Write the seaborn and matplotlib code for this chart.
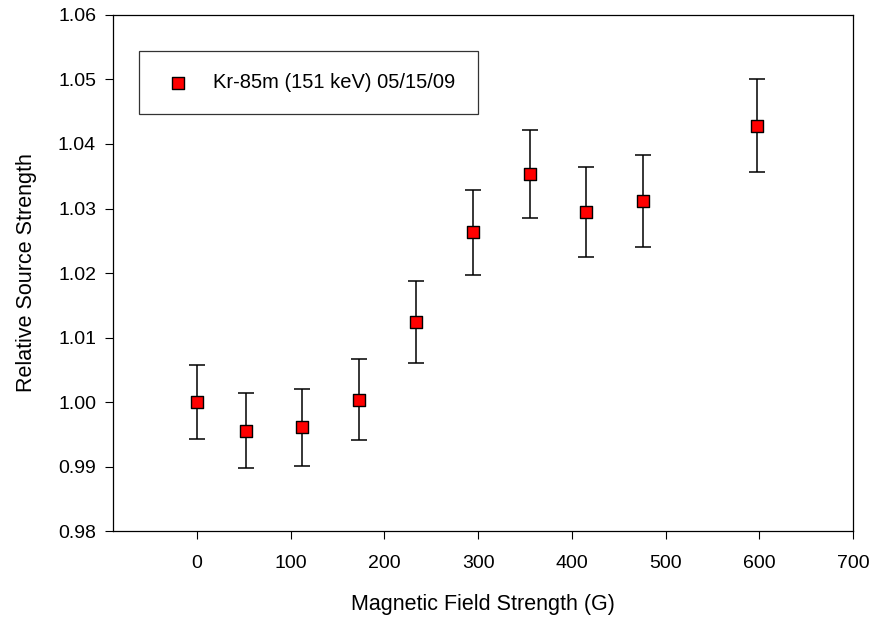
import numpy as np
import pandas as pd
import matplotlib
matplotlib.use("Agg")
import matplotlib.pyplot as plt
import seaborn as sns

# ------------------------
# Data
# ------------------------
field_G = [0, 52, 112, 173, 234, 294, 355, 415, 476, 597]
rel_strength = [1.0000, 0.9956, 0.9961, 1.0004, 1.0124, 1.0263, 1.0354, 1.0295, 1.0312, 1.0428]
rel_err = [0.0057, 0.0058, 0.0060, 0.0063, 0.0064, 0.0066, 0.0068, 0.0070, 0.0071, 0.0072]
series_label = "Kr-85m (151 keV) 05/15/09"

df = pd.DataFrame({"field": field_G, "strength": rel_strength, "err": rel_err})

# ------------------------
# Plot
# ------------------------
sns.set_style("ticks")
plt.rcParams["font.family"] = ["Liberation Sans", "DejaVu Sans"]
plt.rcParams["text.color"] = "black"
plt.rcParams["axes.labelcolor"] = "black"

fig = plt.figure(figsize=(8.74, 6.22), dpi=100)
ax = fig.add_axes([0.129, 0.146, 0.847, 0.830])

ax.errorbar(df["field"], df["strength"], yerr=df["err"], fmt="none",
            ecolor="black", elinewidth=1.1, capsize=5.5, capthick=1.1, zorder=2)
sns.scatterplot(data=df, x="field", y="strength", marker="s", s=70,
                color="#ff0000", edgecolor="black", linewidth=1.0,
                label=series_label, ax=ax, zorder=3)

ax.set_xlim(-90, 700)
ax.set_ylim(0.98, 1.06)
ax.set_xticks(np.arange(0, 701, 100))
yt = np.arange(0.98, 1.0601, 0.01)
ax.set_yticks(yt)
ax.set_yticklabels([f"{v:.2f}" for v in yt])

ax.set_xlabel("Magnetic Field Strength (G)", fontsize=15.5, labelpad=16)
ax.set_ylabel("Relative Source Strength", fontsize=15.5, labelpad=15)
ax.tick_params(axis="both", direction="out", length=6, width=0.8,
               labelsize=14, colors="black", top=False, right=False)
ax.tick_params(axis="x", pad=11)
ax.tick_params(axis="y", pad=6)
for sp in ax.spines.values():
    sp.set_visible(True)
    sp.set_linewidth(0.9)
    sp.set_color("black")

leg = ax.legend(loc="upper left", bbox_to_anchor=(0.035, 0.93), borderaxespad=0,
                fontsize=14.5, frameon=True, fancybox=False, borderpad=1.1,
                handlelength=1.7, handletextpad=0.9)
leg.get_frame().set_edgecolor("black")
leg.get_frame().set_linewidth(0.9)

fig.savefig("out.png", dpi=100)
